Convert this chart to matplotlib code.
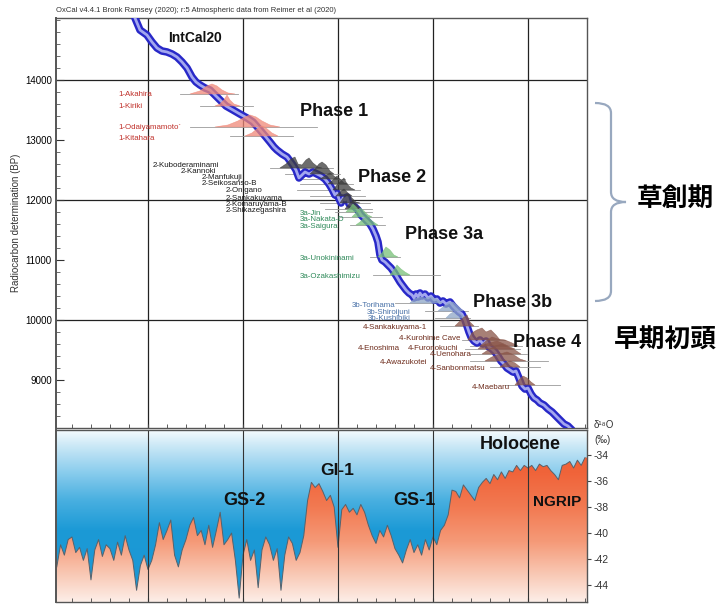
import numpy as np
import matplotlib
matplotlib.use("Agg")
import matplotlib.pyplot as plt
import matplotlib.transforms as mtransforms
from matplotlib.colors import LinearSegmentedColormap
from matplotlib.patches import Polygon, PathPatch
from matplotlib.path import Path
from matplotlib.ticker import MultipleLocator, FixedLocator

plt.rcParams['font.family'] = ['Liberation Sans', 'Noto Sans CJK JP', 'DejaVu Sans']
plt.rcParams['axes.unicode_minus'] = False

# ---------------- data ----------------
header = "OxCal v4.4.1 Bronk Ramsey (2020); r:5 Atmospheric data from Reimer et al (2020)"

# axis ranges (cal BP on x, 14C BP on y)
age_range = (16968, 11379)
c14_range = (8200, 15033)
d18o_range = (-45.3, -32.08)
grid_age = [16000, 15000, 14000, 13000, 12000]
grid_c14 = [14000, 12000, 10000]
c14_ticks = [9000, 10000, 11000, 12000, 13000, 14000]
d18o_ticks = [-44, -42, -40, -38, -36, -34]

# IntCal20 calibration curve
intcal_age = [16158, 16137, 16084, 16011, 15958, 15905, 15853, 15800, 15747, 15695,
              15642, 15589, 15537, 15495, 15453, 15400, 15347, 15295, 15242, 15179,
              15105, 15032, 14958, 14895, 14821, 14768, 14716, 14674, 14642, 14589,
              14537, 14505, 14474, 14442, 14411, 14379, 14347, 14305, 14263, 14221,
              14179, 14137, 14095, 14063, 14032, 14011, 13989, 13968, 13947, 13926,
              13905, 13884, 13853, 13821, 13789, 13758, 13726, 13695, 13663, 13632,
              13600, 13579, 13558, 13537, 13505, 13474, 13442, 13411, 13379, 13347,
              13316, 13284, 13253, 13221, 13200, 13179, 13158, 13137, 13116, 13084,
              13053, 13021, 12989, 12958, 12926, 12895, 12863, 12821, 12789, 12758,
              12726, 12695, 12663, 12642, 12621, 12600, 12568, 12537, 12505, 12474,
              12442, 12411, 12379, 12347, 12316, 12284, 12253, 12221, 12189, 12158,
              12126, 12095, 12063, 12032, 12000, 11968, 11937, 11905, 11874, 11832,
              11789, 11747, 11705, 11663, 11621, 11579, 11537]
intcal_c14 = [15133, 15033, 14833, 14750, 14633, 14533, 14483, 14467, 14433, 14383,
              14300, 14200, 14050, 13967, 13917, 13867, 13833, 13750, 13667, 13567,
              13500, 13433, 13367, 13300, 13167, 13067, 12967, 12883, 12833, 12767,
              12717, 12650, 12583, 12500, 12367, 12417, 12467, 12433, 12467, 12433,
              12400, 12350, 12267, 12183, 12083, 12117, 12017, 11950, 12033, 12000,
              12050, 11933, 11917, 11883, 11833, 11750, 11700, 11650, 11600, 11517,
              11400, 11300, 11083, 11000, 10967, 10917, 10867, 10800, 10717, 10633,
              10567, 10500, 10450, 10417, 10367, 10433, 10383, 10450, 10400, 10433,
              10367, 10400, 10333, 10350, 10283, 10317, 10267, 10300, 10233, 10183,
              10133, 10100, 10000, 9900, 9800, 9717, 9650, 9617, 9667, 9600,
              9650, 9550, 9517, 9467, 9400, 9317, 9267, 9200, 9167, 9133,
              9150, 9033, 8900, 8850, 8867, 8767, 8700, 8667, 8617, 8583,
              8517, 8467, 8400, 8333, 8267, 8233, 8167]

# samples: name, label age, label 14C, baseline 14C, line from, line to, dist ages, dist heights
phase1 = [
    ("1-Akahira", 16316, 13750, 13767, 15663, 15053,
     [15558, 15453, 15379, 15326, 15274, 15221, 15158, 15084], [0, 50, 133, 167, 133, 67, 17, 0]),
    ("1-Kiriki", 16316, 13550, 13567, 15453, 14895,
     [15295, 15242, 15200, 15168, 15137, 15095, 15032], [0, 33, 100, 183, 100, 33, 0]),
    ("1-Odaiyamamoto`", 16316, 13200, 13217, 15558, 14221,
     [15295, 15158, 15053, 14979, 14926, 14863, 14800, 14716, 14611], [0, 33, 100, 167, 200, 167, 100, 33, 0]),
    ("1-Kitahara", 16316, 13033, 13067, 15137, 14474,
     [14979, 14905, 14842, 14800, 14758, 14695, 14632], [0, 50, 133, 167, 133, 50, 0]),
]
phase2 = [
    ("2-Kuboderaminami", 15947, 12583, 12533, 14716, 14053,
     [14611, 14547, 14495, 14453, 14421, 14379, 14337, 14305, 14263, 14211, 14168],
     [0, 67, 150, 183, 67, 50, 133, 167, 83, 17, 0]),
    ("2-Kannoki", 15653, 12467, 12433, 14558, 13979,
     [14295, 14242, 14200, 14168, 14126, 14084, 14042], [0, 83, 167, 200, 150, 50, 0]),
    ("2-Manfukuji", 15432, 12383, 12350, 14400, 13926,
     [14190, 14137, 14084, 14042, 14000], [0, 50, 100, 50, 0]),
    ("2-Seikosanso-B", 15432, 12267, 12267, 14400, 13842,
     [14105, 14053, 14011, 13979, 13937, 13895], [0, 67, 133, 83, 17, 0]),
    ("2-Onigano", 15179, 12150, 12167, 14432, 13768,
     [14053, 14011, 13968, 13937, 13905, 13863, 13821], [0, 83, 150, 200, 100, 33, 0]),
    ("2-Sankakuyama", 15179, 12033, 12067, 14295, 13716,
     [14021, 13979, 13937, 13895, 13853], [0, 67, 117, 50, 0]),
    ("2-Komaruyama-B", 15179, 11917, 11950, 14190, 13663,
     [13979, 13937, 13895, 13853, 13811, 13768], [0, 100, 150, 83, 17, 0]),
    ("2-Shikazegashira", 15179, 11817, 11850, 14137, 13642,
     [13926, 13884, 13842, 13800, 13758], [0, 83, 133, 67, 0]),
]
phase3a = [
    ("3a-Jin", 14400, 11783, 11800, 14032, 13642,
     [13916, 13874, 13842, 13811, 13768], [0, 67, 133, 83, 0]),
    ("3a-Nakata-D", 14400, 11667, 11717, 13979, 13537,
     [13853, 13811, 13768, 13726, 13684, 13642], [0, 67, 150, 100, 33, 0]),
    ("3a-Saigura", 14400, 11550, 11583, 13874, 13505,
     [13811, 13768, 13726, 13684, 13642, 13579], [0, 50, 117, 133, 67, 0]),
    ("3a-Unokininami", 14400, 11017, 11050, 13663, 13347,
     [13579, 13537, 13495, 13453, 13411, 13369], [0, 67, 167, 117, 33, 0]),
    ("3a-Ozakashimizu", 14400, 10733, 10750, 13632, 12926,
     [13453, 13411, 13379, 13337, 13295, 13242], [0, 83, 167, 100, 50, 0]),
]
phase3b = [
    ("3b-Torihama", 13853, 10250, 10283, 13400, 12874,
     [13242, 13200, 13137, 13074, 13011, 12947, 12905], [0, 67, 100, 83, 100, 50, 0]),
    ("3b-Shiroijuni", 13695, 10117, 10150, 13084, 12632,
     [12947, 12895, 12842, 12789, 12737, 12684], [0, 67, 133, 150, 83, 0]),
    ("3b-Kushibiki", 13684, 10017, 10033, 12979, 12611,
     [12863, 12821, 12768, 12716, 12663], [0, 67, 117, 83, 0]),
]
phase4 = [
    ("4-Sankakuyama-1", 13737, 9883, 9900, 12926, 12526,
     [12768, 12726, 12684, 12642, 12611, 12568], [0, 67, 133, 183, 67, 0]),
    ("4-Kurohime Cave", 13358, 9700, 9667, 12695, 12242,
     [12632, 12590, 12537, 12484, 12442, 12390, 12337, 12295], [0, 117, 167, 200, 133, 167, 83, 0]),
    ("4-Enoshima", 13790, 9517, 9517, 12663, 12084,
     [12526, 12474, 12400, 12326, 12253, 12189, 12137], [0, 67, 100, 133, 83, 33, 0]),
    ("4-Furonokuchi", 13263, 9517, 9567, 12611, 12063,
     [12505, 12442, 12379, 12316, 12242, 12168, 12105], [0, 83, 150, 117, 100, 50, 0]),
    ("4-Uenohara", 13032, 9417, 9433, 12611, 12011,
     [12484, 12421, 12347, 12274, 12211, 12137, 12074], [0, 67, 133, 167, 117, 67, 0]),
    ("4-Awazukotei", 13558, 9300, 9317, 12611, 11789,
     [12453, 12379, 12295, 12221, 12147, 12084, 12021], [0, 67, 117, 150, 100, 33, 0]),
    ("4-Sanbonmatsu", 13032, 9200, 9217, 12400, 11874,
     [12295, 12242, 12189, 12137, 12084], [0, 67, 100, 67, 0]),
    ("4-Maebaru", 12590, 8883, 8917, 12242, 11663,
     [12137, 12095, 12053, 12011, 11968, 11926], [0, 83, 150, 117, 50, 0]),
]

# phase titles: text, age, 14C, size
phase_titles = [("IntCal20", 15790, 14700, 10), ("Phase 1", 14400, 13467, 13),
                ("Phase 2", 13790, 12383, 13), ("Phase 3a", 13295, 11433, 13),
                ("Phase 3b", 12579, 10300, 13), ("Phase 4", 12158, 9633, 13)]

# NGRIP d18O record, 40 yr resolution from 16960 to 11400 cal BP
ngrip_age = np.arange(16960, 11360, -40)
ngrip_d18o = [-42.6, -40.9, -41.7, -40.5, -40.3, -41.5, -41.1, -42.1, -41.2, -43.6,
              -41.3, -40.5, -41.8, -40.9, -41.2, -42.1, -40.7, -41.7, -40.2, -41.3,
              -42.1, -44.4, -42.5, -41.7, -42.8, -42.1, -40.9, -39.2, -40.5, -39.8,
              -39.0, -41.7, -42.6, -41.3, -40.5, -39.4, -38.8, -40.2, -39.8, -40.9,
              -39.4, -41.1, -39.8, -38.4, -40.9, -40.5, -40.0, -42.1, -45.0, -41.7,
              -40.5, -42.1, -41.3, -44.2, -41.3, -40.3, -40.9, -42.1, -41.2, -44.4,
              -41.7, -40.3, -40.8, -42.1, -41.5, -40.2, -37.5, -36.1, -36.5, -36.2,
              -36.8, -37.5, -37.1, -38.0, -41.1, -38.2, -37.8, -38.4, -38.1, -38.6,
              -37.8, -38.4, -39.4, -40.2, -40.8, -39.8, -40.3, -39.4, -40.2, -41.2,
              -41.7, -42.3, -41.3, -40.5, -41.5, -40.9, -41.7, -40.5, -41.3, -40.3,
              -40.9, -39.8, -39.4, -38.6, -36.7, -36.8, -37.3, -36.3, -36.7, -37.1,
              -37.5, -36.5, -36.1, -35.8, -36.2, -35.5, -35.9, -35.3, -35.8, -35.2,
              -35.3, -34.8, -35.2, -34.8, -35.0, -34.8, -35.2, -34.7, -34.9, -34.8,
              -35.2, -35.5, -35.9, -34.8, -34.7, -34.5, -35.0, -34.4, -34.8, -34.2]

climate_titles = [("GS-2", 15211, -37.5, 13), ("GI-1", 14190, -35.2, 12.5),
                  ("GS-1", 13421, -37.5, 13), ("Holocene", 12505, -33.2, 13),
                  ("NGRIP", 11947, -37.6, 11)]

# ---------------- figure ----------------
fig = plt.figure(figsize=(7.19, 6.06), dpi=100)
ax = fig.add_axes([0.0779, 0.2937, 0.7385, 0.6766])
axb = fig.add_axes([0.0779, 0.0066, 0.7385, 0.2838])

# upper panel: calibration plot
ax.set_xlim(*age_range)
ax.set_ylim(*c14_range)
for a in grid_age:
    ax.axvline(a, color='#222222', lw=0.9, zorder=1)
for c in grid_c14:
    ax.axhline(c, color='#222222', lw=0.9, zorder=1)

ax.plot(intcal_age, intcal_c14, color='#2828c8', lw=5.5, solid_capstyle='round', zorder=3)
ax.plot(intcal_age, intcal_c14, color='#a3a7ef', lw=2.0, zorder=3.1)


def draw_phase(samples, fill, text_color):
    for name, lx, ly, base, x0, x1, dx, dh in samples:
        ax.plot([x0, x1], [base, base], color='#9a9a9a', lw=0.6, zorder=2)
        ax.fill(dx, [base + h for h in dh], facecolor=fill, edgecolor=fill,
                lw=0.4, alpha=0.75, zorder=4)
        ax.text(lx, ly, name, fontsize=5.7, color=text_color, ha='left', va='center', zorder=5)


draw_phase(phase1, '#f08878', '#c0302a')
draw_phase(phase2, '#3c3c3c', '#1a1a1a')
draw_phase(phase3a, '#78c078', '#2f8a5a')
draw_phase(phase3b, '#8ea6c6', '#4a72a8')
draw_phase(phase4, '#8a5548', '#6e2c1c')

for txt, a, c, fs in phase_titles:
    ax.text(a, c, txt, fontsize=fs, fontweight='bold', color='#111111', ha='left', va='center', zorder=6)

ax.xaxis.set_major_locator(MultipleLocator(1000))
ax.xaxis.set_minor_locator(MultipleLocator(200))
ax.tick_params(axis='x', which='both', direction='in', length=3, labelbottom=False, color='#444444')
ax.yaxis.set_major_locator(FixedLocator(c14_ticks))
ax.yaxis.set_minor_locator(MultipleLocator(200))
ax.tick_params(axis='y', which='major', direction='in', length=6, labelsize=7, pad=3, color='#333333')
ax.tick_params(axis='y', which='minor', direction='in', length=3, color='#555555')
ax.set_ylabel('Radiocarbon determination (BP)', fontsize=7, labelpad=3, color='#333333')
for s in ax.spines.values():
    s.set_color('#555555')
    s.set_linewidth(1.0)
ax.spines['left'].set_linewidth(1.4)

# lower panel: NGRIP
axb.set_xlim(*age_range)
axb.set_ylim(*d18o_range)
grad = np.linspace(0, 1, 256).reshape(-1, 1)
sky = LinearSegmentedColormap.from_list('sky', [(0, '#1a96d4'), (0.42, '#1c9ad6'), (0.59, '#48afe0'),
                                                (0.77, '#90cfee'), (0.91, '#cbe8f6'), (1, '#f5fbfe')])
warm = LinearSegmentedColormap.from_list('warm', [(0, '#fdeee8'), (0.15, '#f9cbb8'), (0.35, '#f59a78'),
                                                  (0.55, '#f27a52'), (0.75, '#f0643a'), (1, '#ee5a2e')])
ext = [age_range[0], age_range[1], d18o_range[0], d18o_range[1]]
axb.imshow(grad, cmap=sky, origin='lower', extent=ext, aspect='auto', zorder=0)
im = axb.imshow(grad, cmap=warm, origin='lower', extent=ext, aspect='auto', zorder=1)
# clip region under the curve, carried flat out to the panel edges
verts = np.column_stack([np.r_[age_range[0], age_range[0], ngrip_age, age_range[1], age_range[1]],
                         np.r_[-46, ngrip_d18o[0], ngrip_d18o, ngrip_d18o[-1], -46]])
clip = Polygon(verts, closed=True, transform=axb.transData, facecolor='none', edgecolor='none')
axb.add_patch(clip)
im.set_clip_path(clip)
axb.plot(ngrip_age, ngrip_d18o, color='#56626c', lw=0.7, zorder=2)
for a in grid_age:
    axb.axvline(a, color='#333333', lw=0.8, zorder=2.5)
axb.set_xlim(*age_range)
axb.set_ylim(*d18o_range)

for txt, a, d, fs in climate_titles:
    axb.text(a, d, txt, fontsize=fs, fontweight='bold', color='#111111', ha='left', va='center', zorder=6)

axb.xaxis.set_major_locator(MultipleLocator(1000))
axb.xaxis.set_minor_locator(MultipleLocator(200))
axb.tick_params(axis='x', which='both', direction='in', length=3, labelbottom=False, color='#444444')
axb.yaxis.tick_right()
axb.yaxis.set_major_locator(FixedLocator(d18o_ticks))
axb.tick_params(axis='y', which='major', direction='out', length=3, labelsize=7.5, pad=2,
                color='#444444', labelcolor='#333333')
for s in axb.spines.values():
    s.set_color('#555555')
    s.set_linewidth(1.0)
axb.spines['left'].set_linewidth(1.4)

fig.text(0.826, 0.2985, 'δ¹⁸O', fontsize=7, color='#333333', va='center')
fig.text(0.826, 0.274, '(‰)', fontsize=7, color='#333333', va='center')

# header and Japanese period labels
fig.text(56 / 719, 1 - 10 / 606, header, fontsize=5.5, color='#333333', va='center')
fig.text(0.886, 0.673, '草創期', fontsize=18.5, fontweight='bold', va='center',
         family=['Noto Sans CJK JP'])
fig.text(0.854, 0.439, '早期初頭', fontsize=18.5, fontweight='bold', va='center',
         family=['Noto Sans CJK JP'])

# curly brace next to 草創期 (figure pixel coordinates)
px = mtransforms.Affine2D().scale(1 / 719, -1 / 606).translate(0, 1) + fig.transFigure
brace = Path([(595, 103), (611, 103), (611, 113), (611, 192), (611, 202), (626, 202),
              (611, 202), (611, 212), (611, 291), (611, 301), (595, 301)],
             [Path.MOVETO, Path.CURVE3, Path.CURVE3, Path.LINETO, Path.CURVE3, Path.CURVE3,
              Path.CURVE3, Path.CURVE3, Path.LINETO, Path.CURVE3, Path.CURVE3])
fig.patches.append(PathPatch(brace, transform=px, facecolor='none', edgecolor='#98a8bf', lw=1.6))

fig.savefig('out.png', dpi=100)
